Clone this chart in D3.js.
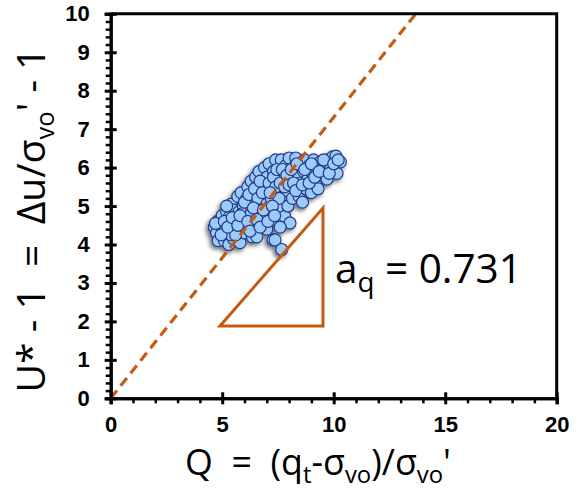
<!DOCTYPE html>
<html><head><meta charset="utf-8">
<script src="https://cdn.jsdelivr.net/npm/d3@7"></script>
<style>
html,body{margin:0;padding:0;background:#fff;}
text{white-space:pre;}
</style></head>
<body>
<svg id="chart" width="584" height="491"></svg>
<script>
// ---- data ----
const xTicks = [0, 5, 10, 15, 20];
const yTicks = [0, 1, 2, 3, 4, 5, 6, 7, 8, 9, 10];
const slopeAq = 0.731;
const triangleQ = [4.9, 9.52, 9.52];
const triangleU = [1.88, 1.88, 4.95];
const pointsQ = [4.65,4.75,4.8,4.9,4.95,5.0,5.05,4.82,
 5.1,5.15,5.2,5.25,5.3,5.35,5.4,5.45,5.5,5.5,5.2,5.4,
 5.6,5.7,5.7,5.75,5.8,5.85,5.9,5.95,6.0,
 6.05,6.1,6.15,6.2,6.25,6.3,6.35,6.4,6.45,6.5,6.5,6.3,
 6.55,6.55,6.65,6.7,6.75,6.8,6.85,6.9,6.95,7.0,7.0,
 7.05,7.1,7.15,7.2,7.28,7.3,7.35,7.4,7.45,7.5,7.37,
 7.55,7.6,7.65,7.7,7.67,7.75,7.8,7.85,7.9,7.95,8.0,8.04,
 8.1,8.15,8.2,8.25,8.3,8.4,8.45,8.5,8.5,
 8.6,8.65,8.7,8.75,8.85,8.9,9.0,9.05,9.1,
 9.2,9.25,9.3,9.4,9.5,9.6,9.7,9.75,9.85,9.95,10.05,10.15,10.3,10.1,
 5.3,5.55,5.6,5.9,6.0,6.2,6.3,6.45,6.6,6.7,6.8,6.9,7.0,7.1,7.2,7.3,7.4,7.45,
 7.55,7.6,7.7,7.8,7.9,8.0,8.1,8.2,8.3,8.35,8.6,8.7,8.9,9.0,9.15,9.35,9.55,9.8,10.0,10.2,
 4.7,4.95,5.1,5.25,5.45,5.7,5.8,6.15,6.25,6.4,6.55,6.7,6.85,7.05,7.15,7.25,7.35,7.6];
const pointsU = [4.45,4.3,4.6,4.15,4.5,4.75,4.35,4.1,
 4.1,4.55,4.85,4.3,4.0,4.65,5.05,4.4,4.15,4.9,5.0,4.25,
 4.6,5.25,4.35,4.85,4.05,5.35,4.6,5.0,4.3,
 4.75,5.2,5.5,4.5,4.95,5.65,4.2,5.3,4.7,5.05,5.75,4.45,
 5.5,4.2,5.9,4.9,5.25,4.6,5.6,6.0,5.1,4.4,5.75,
 5.3,6.1,4.85,5.55,4.12,5.9,5.05,6.2,4.6,5.4,4.12,
 5.8,4.95,6.2,5.25,3.87,5.6,4.73,6.05,5.4,5.0,6.25,4.56,
 5.7,5.2,6.0,5.45,6.25,5.85,5.25,5.6,6.1,
 5.1,5.9,6.2,5.45,5.7,6.05,5.35,5.85,6.2,
 5.6,6.0,5.45,6.15,5.8,6.1,5.7,6.2,5.95,6.28,6.05,5.85,6.15,6.3,
 4.7,4.55,4.25,4.8,5.1,5.3,4.8,5.45,5.2,5.65,5.35,4.75,5.05,5.6,5.2,5.75,5.5,5.95,
 5.2,5.6,5.95,5.5,5.8,5.55,5.95,5.6,5.4,6.1,5.55,5.95,5.6,6.1,5.75,5.9,6.2,5.85,6.1,6.2,
 4.55,4.25,4.6,4.45,4.7,4.5,4.75,4.6,4.35,4.95,4.65,4.45,4.9,4.6,5.35,5.0,4.75,4.45];

// ---- layout ----
const svg = d3.select('#chart');
const x = d3.scaleLinear().domain([0, 20]).range([110.7, 556.7]);
const y = d3.scaleLinear().domain([0, 10]).range([398.3, 13.8]);
const orange = '#c55a11';
const tf = '"Open Sans", Lato, sans-serif';

// fit a text element to a target width by scaling its font size (and child tspans)
function fitWidth(sel, target) {
  const w = sel.node().getBBox().width;
  const k = target / w;
  sel.attr('font-size', +sel.attr('font-size') * k);
  sel.selectAll('tspan').each(function() {
    const t = d3.select(this);
    if (t.attr('font-size')) t.attr('font-size', +t.attr('font-size') * k);
    if (t.attr('dy')) t.attr('dy', +t.attr('dy') * k);
  });
}

// drop shadow filter
const defs = svg.append('defs');
const f = defs.append('filter').attr('id','sh').attr('x','-20%').attr('y','-20%').attr('width','140%').attr('height','140%');
f.append('feDropShadow').attr('dx',-2).attr('dy',2.5).attr('stdDeviation',2).attr('flood-color','#000').attr('flood-opacity',0.55);

// points
const pts = d3.range(pointsQ.length).map(i => [pointsQ[i], pointsU[i]]);
svg.append('g').attr('filter','url(#sh)')
  .selectAll('circle').data(pts).join('circle')
  .attr('cx', d => x(d[0])).attr('cy', d => y(d[1])).attr('r', 6)
  .attr('fill', '#9ccafa').attr('stroke', '#243b86').attr('stroke-width', 1.2);

// dashed trend line
const qTop = 10 / slopeAq;
svg.append('line')
  .attr('x1', x(0)).attr('y1', y(0)).attr('x2', x(qTop)).attr('y2', y(10))
  .attr('stroke', orange).attr('stroke-width', 3.2).attr('stroke-dasharray', '10,6');

// triangle
const tri = d3.range(3).map(i => [x(triangleQ[i]), y(triangleU[i])]);
svg.append('path').attr('d', d3.line()(tri) + 'Z')
  .attr('fill', 'none').attr('stroke', orange).attr('stroke-width', 3);

// annotation
const ann = svg.append('text').attr('x', 335).attr('y', 283)
  .attr('font-family', tf).attr('font-size', 38).attr('fill', '#000');
ann.append('tspan').text('a');
ann.append('tspan').attr('font-size', 26).attr('dy', 8).text('q');
ann.append('tspan').attr('dy', -8).text(' = 0.731');
fitWidth(ann, 187);

// box
svg.append('path')
  .attr('d', `M${x(0)},${y(10)}H${x(20)}V${y(0)}`)
  .attr('fill','none').attr('stroke','#000').attr('stroke-width',3);

// x axis
const gx = svg.append('g').attr('transform', `translate(0,${y(0)})`);
gx.call(d3.axisBottom(x).tickValues(d3.range(1,20).filter(v => v % 5)).tickSize(5).tickFormat(''));
gx.selectAll('.tick text').remove();
gx.append('g').call(d3.axisBottom(x).tickValues(xTicks).tickSize(6).tickPadding(12).tickFormat(d3.format('d')));
gx.selectAll('.tick line').attr('stroke-width', 2.5);
gx.selectAll('g g .tick line').attr('y1', -6).attr('stroke-width', 3);
gx.selectAll('.domain').attr('stroke-width', 3);
gx.selectAll('text').attr('font-family','"Liberation Sans", Arial, sans-serif').attr('font-weight','bold').attr('font-size',22).attr('fill','#000');

// y axis
const gy = svg.append('g').attr('transform', `translate(${x(0)},0)`);
gy.call(d3.axisLeft(y).tickValues(d3.range(1,50).filter(v => v % 5).map(v => v/5)).tickSize(5).tickFormat(''));
gy.selectAll('.tick text').remove();
gy.append('g').call(d3.axisLeft(y).tickValues(yTicks).tickSize(6).tickPadding(15).tickFormat(d3.format('d')));
gy.selectAll('.tick line').attr('stroke-width', 2.5);
gy.selectAll('g g .tick line').attr('x1', 6).attr('stroke-width', 3);
gy.selectAll('.domain').attr('stroke-width', 3);
gy.selectAll('text').attr('font-family','"Liberation Sans", Arial, sans-serif').attr('font-weight','bold').attr('font-size',22).attr('fill','#000');

// axis titles
const xt = svg.append('text').attr('x', 318).attr('y', 475).attr('text-anchor','middle')
  .attr('font-family', tf).attr('font-size', 27).attr('fill','#000');
xt.append('tspan').text('Q  =  (q');
xt.append('tspan').attr('font-size', 18).attr('dy', 6).text('t');
xt.append('tspan').attr('dy', -6).text('-σ');
xt.append('tspan').attr('font-size', 18).attr('dy', 6).text('vo');
xt.append('tspan').attr('dy', -6).text(')/σ');
xt.append('tspan').attr('font-size', 18).attr('dy', 6).text('vo');
xt.append('tspan').attr('dy', -6).text("'");
fitWidth(xt, 266);

const yt = svg.append('text').attr('transform', 'translate(45,220) rotate(-90)').attr('text-anchor','middle')
  .attr('font-family', tf).attr('font-size', 32).attr('fill','#000');
yt.append('tspan').text('U* - 1  =  Δu/σ');
yt.append('tspan').attr('font-size', 21).attr('dy', 7).text('vo');
yt.append('tspan').attr('dy', -7).text("' - 1");
fitWidth(yt, 345);
</script>
</body></html>
